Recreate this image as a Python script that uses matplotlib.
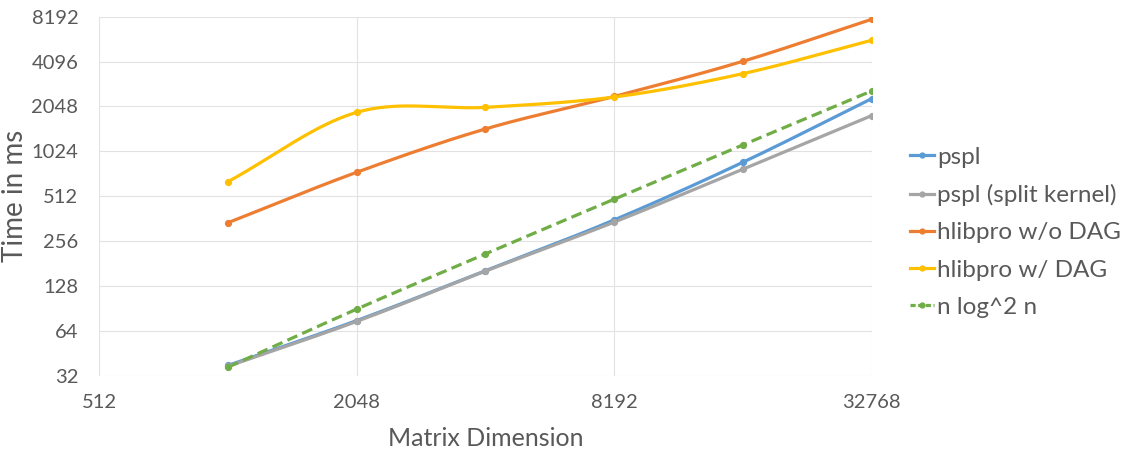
import numpy as np
import matplotlib
matplotlib.use("Agg")
import matplotlib.pyplot as plt
from matplotlib.lines import Line2D

# Matrix dimensions and measured run times (ms)
dims = [1024, 2048, 4096, 8192, 16384, 32768]
pspl = [37.5, 75, 162, 355, 865, 2310]
pspl_split = [37, 74, 161, 343, 777, 1777]
hlib_nodag = [340, 741, 1447, 2390, 4115, 7870]
hlib_dag = [641, 1870, 2020, 2370, 3400, 5690]
nlog2n = [36.5, 89.5, 210, 489, 1131, 2601]

series_names = ["pspl", "pspl (split kernel)", "hlibpro w/o DAG",
                "hlibpro w/ DAG", "n log^2 n"]
series_vals = [pspl, pspl_split, hlib_nodag, hlib_dag, nlog2n]
colors = ["#5B9BD5", "#A5A5A5", "#ED7D31", "#FFC000", "#70AD47"]

x_ticks = [512, 2048, 8192, 32768]
y_ticks = [32, 64, 128, 256, 512, 1024, 2048, 4096, 8192]

FONT = ["Lato", "DejaVu Sans"]
TEXT_GRAY = "#595959"


def smooth(xs, ys, n=40):
    """Catmull-Rom spline through the points in log2 space."""
    lx = np.log2(np.asarray(xs, float))
    ly = np.log2(np.asarray(ys, float))
    px = np.concatenate([[2 * lx[0] - lx[1]], lx, [2 * lx[-1] - lx[-2]]])
    py = np.concatenate([[2 * ly[0] - ly[1]], ly, [2 * ly[-1] - ly[-2]]])
    outx, outy = [], []
    t = np.linspace(0, 1, n)
    for i in range(1, len(px) - 2):
        h00 = 2 * t**3 - 3 * t**2 + 1
        h10 = t**3 - 2 * t**2 + t
        h01 = -2 * t**3 + 3 * t**2
        h11 = t**3 - t**2
        mx0 = (px[i + 1] - px[i - 1]) / 2
        mx1 = (px[i + 2] - px[i]) / 2
        my0 = (py[i + 1] - py[i - 1]) / 2
        my1 = (py[i + 2] - py[i]) / 2
        sx = h00 * px[i] + h10 * mx0 + h01 * px[i + 1] + h11 * mx1
        sy = h00 * py[i] + h10 * my0 + h01 * py[i + 1] + h11 * my1
        outx.append(sx if i == 1 else sx[1:])
        outy.append(sy if i == 1 else sy[1:])
    return 2 ** np.concatenate(outx), 2 ** np.concatenate(outy)


fig = plt.figure(figsize=(11.31, 4.49), dpi=100)
ax = fig.add_axes([0.0878, 0.1633, 0.6829, 0.7995])
ax.set_xscale("log", base=2)
ax.set_yscale("log", base=2)

lw = 2.3
handles = []
for name, vals, c in zip(series_names, series_vals, colors):
    dashed = name.startswith("n log")
    sx, sy = smooth(dims, vals)
    ln, = ax.plot(sx, sy, color=c, lw=lw, solid_capstyle="round",
                  dash_capstyle="butt", zorder=3)
    if dashed:
        ln.set_dashes((3.4, 1.7))
    ax.plot(dims, vals, linestyle="none", marker="o", ms=4.2,
            color=c, mec=c, zorder=4)
    h = Line2D([0], [0], color=c, lw=lw, marker="o", ms=3.5,
               linestyle="--" if dashed else "-")
    if dashed:
        h.set_dashes((1.6, 0.8))
    handles.append(h)

ax.set_xlim(512, 32768)
ax.set_ylim(32, 8192)
ax.set_xticks(x_ticks)
ax.set_xticklabels([str(v) for v in x_ticks])
ax.set_yticks(y_ticks)
ax.set_yticklabels([str(v) for v in y_ticks])
ax.minorticks_off()
ax.grid(True, which="major", color="#E2E2E2", lw=0.8, zorder=0)
ax.set_axisbelow(True)
for s in ax.spines.values():
    s.set_visible(False)
ax.tick_params(axis="both", length=0, labelsize=14.5, labelcolor=TEXT_GRAY)
ax.tick_params(axis="y", pad=15)
ax.tick_params(axis="x", pad=13)
for lab in ax.get_xticklabels() + ax.get_yticklabels():
    lab.set_family(FONT)

ax.set_xlabel("Matrix Dimension", fontsize=18, color=TEXT_GRAY, family=FONT)
ax.set_ylabel("Time in ms", fontsize=20, color=TEXT_GRAY, family=FONT)
ax.xaxis.set_label_coords(0.5, -0.143)
ax.yaxis.set_label_coords(-0.092, 0.5)

leg = fig.legend(handles, series_names, loc="upper left",
                 bbox_to_anchor=(0.785, 0.722), frameon=False,
                 handlelength=1.0, handletextpad=0.12, labelspacing=0.67,
                 prop={"family": FONT, "size": 17.5})
for t in leg.get_texts():
    t.set_color(TEXT_GRAY)

fig.savefig("out.png", dpi=100)
